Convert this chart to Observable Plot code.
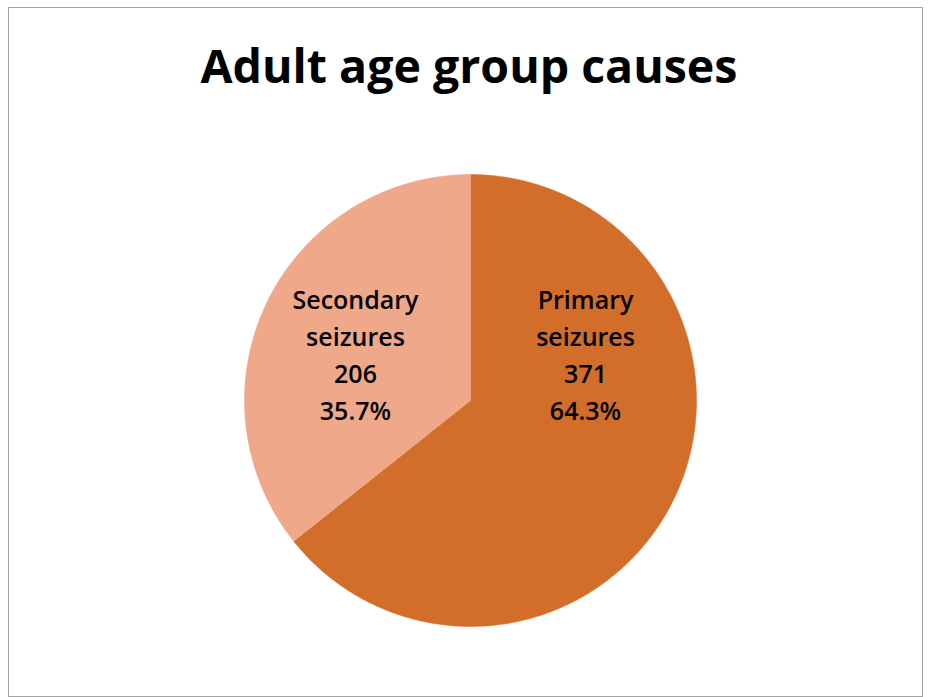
<!DOCTYPE html>
<html>
<head>
<meta charset="utf-8">
<script src="https://cdn.jsdelivr.net/npm/d3@7"></script>
<script src="https://cdn.jsdelivr.net/npm/@observablehq/plot@0.6"></script>
<style>
  html, body { margin: 0; padding: 0; background: #fff; }
  #wrap { position: relative; width: 929px; height: 697px; overflow: hidden; background: #fff; }
  #frame { position: absolute; left: 8px; top: 7px; width: 915px; height: 690px; border: 1.5px solid #a3a3a3; box-sizing: border-box; }
  #title { position: absolute; left: 0; top: 42px; width: 938px; text-align: center; font-family: "Open Sans", sans-serif; font-weight: 700; font-size: 46.5px; line-height: 46.5px; color: #000; }
  #chart { position: absolute; left: 0; top: 120px; }
</style>
</head>
<body>
<div id="wrap">
  <div id="frame"></div>
  <div id="title">Adult age group causes</div>
  <div id="chart"></div>
</div>
<script>
const categories = ["Primary seizures", "Secondary seizures"];
const labelLines = [["Primary", "seizures"], ["Secondary", "seizures"]];
const counts = [371, 206];
const percentLabels = ["64.3%", "35.7%"];
const sliceColors = ["#D26D2A", "#F0A88A"];

const total = d3.sum(counts);
// slices start at 12 o'clock and run clockwise
const arcs = [];
let start = 0;
counts.forEach((v, i) => {
  const end = start + (v / total) * 2 * Math.PI;
  arcs.push({ category: categories[i], start, end, i });
  start = end;
});

const polyPts = [];
arcs.forEach(a => {
  polyPts.push({ category: a.category, x: 0, y: 0 });
  const n = Math.max(2, Math.ceil((a.end - a.start) / (Math.PI / 360)));
  for (let k = 0; k <= n; k++) {
    const t = a.start + (a.end - a.start) * k / n;
    polyPts.push({ category: a.category, x: Math.sin(t), y: Math.cos(t) });
  }
  polyPts.push({ category: a.category, x: 0, y: 0 });
});

const labels = arcs.map(a => {
  const mid = (a.start + a.end) / 2;
  return {
    category: a.category,
    x: 0.565 * Math.sin(mid),
    y: 0.21,
    text: [...labelLines[a.i], String(counts[a.i]), percentLabels[a.i]].join("\n")
  };
});

const W = 929, H = 577;
const plot = Plot.plot({
  width: W,
  height: H,
  marginLeft: 244,
  marginRight: 233,
  marginTop: 54,
  marginBottom: 71,
  x: { domain: [-1, 1], axis: null },
  y: { domain: [-1, 1], axis: null },
  color: { domain: categories, range: sliceColors, legend: false },
  style: { background: "transparent", overflow: "visible" },
  marks: [
    Plot.line(polyPts, { x: "x", y: "y", z: "category", fill: "category", stroke: "category", strokeWidth: 0.5, curve: "linear-closed" }),
    Plot.text(labels, {
      x: "x", y: "y", text: "text",
      fontFamily: "Open Sans", fontWeight: 600, fontSize: 25,
      lineHeight: 1.48, lineAnchor: "middle", textAnchor: "middle",
      fill: "#000"
    })
  ]
});
document.getElementById("chart").appendChild(plot);
</script>
</body>
</html>
